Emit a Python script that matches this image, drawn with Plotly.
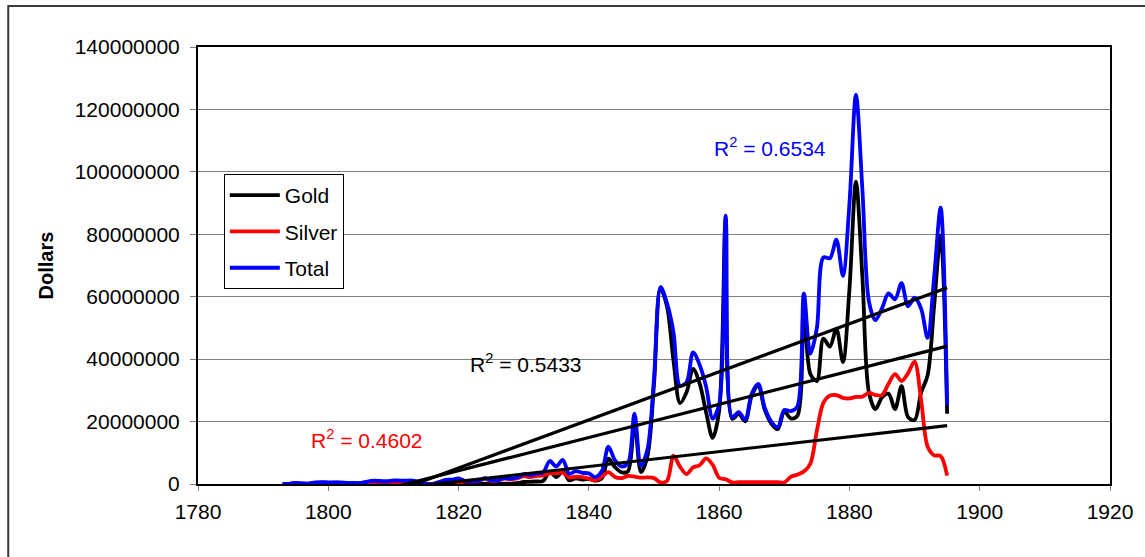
import numpy as np
import plotly.graph_objects as go

# ---------------- data (millions of dollars, US Mint coinage) ----------------
YEARS = list(range(1793, 1896))

GOLD_M = [
    0.00, 0.00, 0.07, 0.10, 0.10, 0.21, 0.21, 0.32, 0.42, 0.42,   # 1793-1802
    0.26, 0.26, 0.17, 0.32, 0.44, 0.28, 0.17, 0.50, 0.50, 0.29,   # 1803-1812
    0.48, 0.08, 0.00, 0.00, 0.00, 0.24, 0.26, 1.32, 0.19, 0.09,   # 1813-1822
    0.07, 0.09, 0.16, 0.09, 0.13, 0.14, 0.30, 0.64, 0.71, 0.80,   # 1823-1832
    0.98, 3.95, 2.19, 4.14, 1.15, 1.81, 1.38, 1.68, 1.09, 1.83,   # 1833-1842
    8.11, 5.43, 3.76, 4.03, 20.20, 3.78, 9.01, 31.98, 62.61, 56.85,  # 1843-1852
    39.38, 25.92, 29.39, 36.86, 32.21, 22.94, 14.78, 23.47, 84.50, 20.88,  # 1853-1862
    22.45, 20.08, 28.30, 31.44, 23.83, 19.37, 17.58, 23.20, 21.03, 21.81,  # 1863-1872
    57.02, 35.25, 32.95, 46.58, 44.00, 49.79, 39.08, 62.31, 96.85, 65.89,  # 1873-1882
    29.24, 23.99, 27.77, 28.95, 23.97, 31.38, 21.41, 20.47, 29.22, 34.79,  # 1883-1892
    56.99, 79.55, 22.50,                                               # 1893-1895
]

SILVER_M = [
    0.00, 0.05, 0.32, 0.08, 0.01, 0.33, 0.42, 0.22, 0.07, 0.03,   # 1793-1802
    0.09, 0.10, 0.14, 0.47, 0.60, 0.68, 0.71, 0.64, 0.61, 0.81,   # 1803-1812
    0.62, 0.56, 0.02, 0.03, 0.61, 1.07, 1.14, 0.50, 0.83, 0.81,   # 1813-1822
    0.90, 1.75, 1.00, 1.10, 1.76, 1.56, 1.77, 2.55, 2.20, 2.58,   # 1823-1832
    2.76, 3.42, 3.44, 3.61, 2.10, 2.33, 2.19, 1.73, 1.13, 2.33,   # 1833-1842
    3.83, 2.24, 1.87, 2.56, 2.37, 2.04, 2.11, 1.87, 0.50, 1.00,   # 1843-1852
    9.08, 5.50, 3.20, 5.30, 6.00, 8.20, 6.20, 2.00, 1.50, 0.50,   # 1853-1862
    0.60, 0.60, 0.60, 0.60, 0.60, 0.60, 0.60, 0.50, 2.30, 3.00,   # 1863-1872
    4.00, 6.50, 17.00, 26.00, 28.30, 28.50, 27.60, 27.40, 27.90, 28.00,  # 1873-1882
    29.20, 28.50, 28.50, 32.10, 35.20, 33.00, 35.50, 39.20, 27.00, 12.00,  # 1883-1892
    9.20, 9.00, 2.70,                                                  # 1893-1895
]

TOTAL_M = [
    0.00, 0.05, 0.39, 0.18, 0.11, 0.54, 0.63, 0.54, 0.49, 0.45,   # 1793-1802
    0.35, 0.36, 0.31, 0.79, 1.04, 0.96, 0.88, 1.14, 1.11, 1.10,   # 1803-1812
    1.10, 0.64, 0.02, 0.03, 0.61, 1.31, 1.40, 1.82, 1.02, 0.90,   # 1813-1822
    0.97, 1.84, 1.16, 1.19, 1.89, 1.70, 2.07, 3.19, 2.91, 3.38,   # 1823-1832
    3.74, 7.37, 5.63, 7.75, 3.25, 4.14, 3.57, 3.41, 2.22, 4.16,   # 1833-1842
    11.94, 7.67, 5.63, 6.59, 22.57, 5.82, 11.12, 33.85, 63.11, 57.85,  # 1843-1852
    48.46, 31.42, 32.59, 42.16, 38.21, 31.14, 20.98, 25.47, 86.00, 21.38,  # 1853-1862
    23.05, 20.68, 28.90, 32.04, 24.43, 19.97, 18.18, 23.70, 23.33, 24.81,  # 1863-1872
    61.02, 41.75, 49.95, 72.58, 72.30, 78.29, 66.68, 89.71, 124.75, 93.89,  # 1873-1882
    58.44, 52.49, 56.27, 61.05, 59.17, 64.38, 56.91, 59.67, 56.22, 46.79,  # 1883-1892
    66.19, 88.55, 25.20,                                               # 1893-1895
]

SERIES_NAMES = ["Gold", "Silver", "Total"]
SERIES_COLORS = ["#000000", "#FF0000", "#0000FF"]
R2_LABELS = ["R<sup>2</sup> = 0.5433", "R<sup>2</sup> = 0.4602", "R<sup>2</sup> = 0.6534"]

X_TICKS = [1780, 1800, 1820, 1840, 1860, 1880, 1900, 1920]
Y_TICKS = [0, 20000000, 40000000, 60000000, 80000000, 100000000, 120000000, 140000000]

FONT = "Liberation Sans, Arial, sans-serif"

# ---------------- figure ----------------
W, H = 1145, 557
ML, MR, MT, MB = 198, 29, 47, 73
PW, PH = W - ML - MR, H - MT - MB

years = np.array(YEARS, dtype=float)
series = [np.array(GOLD_M) * 1e6, np.array(SILVER_M) * 1e6, np.array(TOTAL_M) * 1e6]

fig = go.Figure()
for i, (name, col, vals) in enumerate(zip(SERIES_NAMES, SERIES_COLORS, series)):
    fig.add_trace(go.Scatter(
        x=years, y=vals, mode="lines", name=name,
        line=dict(color=col, width=3.8, shape="spline", smoothing=0.9),
        legendgroup=name, showlegend=True,
    ))

# linear trendlines (least squares fit on data)
for vals in series:
    k, b = np.polyfit(years, vals, 1)
    xs = np.array([years[0], years[-1]])
    fig.add_trace(go.Scatter(
        x=xs, y=k * xs + b, mode="lines", showlegend=False,
        line=dict(color="#000000", width=3.2), hoverinfo="skip",
    ))

def px_to_paper(xp, yp):
    return (xp - ML) / PW, (H - MB - yp) / PH

annos = []
# R^2 labels: (text, colour, pixel centre)
for txt, col, (cx, cy) in zip(
        R2_LABELS, SERIES_COLORS,
        [(528, 378), (310, 454), (774, 132)]):
    ax_, ay_ = px_to_paper(cx, cy)
    annos.append(dict(text=txt, x=ax_, y=ay_, xref="paper", yref="paper",
                      showarrow=False, font=dict(family=FONT, size=21, color=col)))

# outer chart border (right and bottom edges fall outside the picture)
bx0, by1 = px_to_paper(7, 6)
bx1, by0 = px_to_paper(1170, 580)

lx, ly = px_to_paper(224, 174)

fig.update_layout(
    width=W, height=H,
    margin=dict(l=ML, r=MR, t=MT, b=MB, pad=0),
    paper_bgcolor="white", plot_bgcolor="white",
    font=dict(family=FONT, size=21, color="black"),
    showlegend=True,
    legend=dict(x=lx, y=ly, xanchor="left", yanchor="top",
                bgcolor="white", bordercolor="#000000", borderwidth=1,
                font=dict(family=FONT, size=21, color="black"),
                tracegroupgap=6, itemwidth=50),
    annotations=annos,
    shapes=[dict(type="rect", xref="paper", yref="paper",
                 x0=bx0, x1=bx1, y0=by0, y1=by1,
                 line=dict(color="#3a3a3a", width=2), layer="below")],
    xaxis=dict(range=[1780, 1920], tickvals=X_TICKS, tickformat="d",
               showgrid=False, zeroline=False,
               showline=True, linecolor="black", linewidth=2, mirror=True,
               ticks="outside", ticklen=5, tickcolor="#808080", tickwidth=1,
               ticklabelstandoff=3,
               tickfont=dict(family=FONT, size=21, color="black")),
    yaxis=dict(range=[0, 140000000], tickvals=Y_TICKS, tickformat="d",
               showgrid=True, gridcolor="#808080", gridwidth=1, zeroline=False,
               showline=True, linecolor="black", linewidth=2, mirror=True,
               ticks="outside", ticklen=6, tickcolor="#808080", tickwidth=1,
               ticklabelstandoff=6,
               tickfont=dict(family=FONT, size=21, color="black"),
               title=dict(text="<b>Dollars</b>", standoff=16,
                          font=dict(family=FONT, size=20, color="black"))),
)

fig.write_html("out.html", config={"displayModeBar": False},
               post_script="document.body.style.margin='0';")
